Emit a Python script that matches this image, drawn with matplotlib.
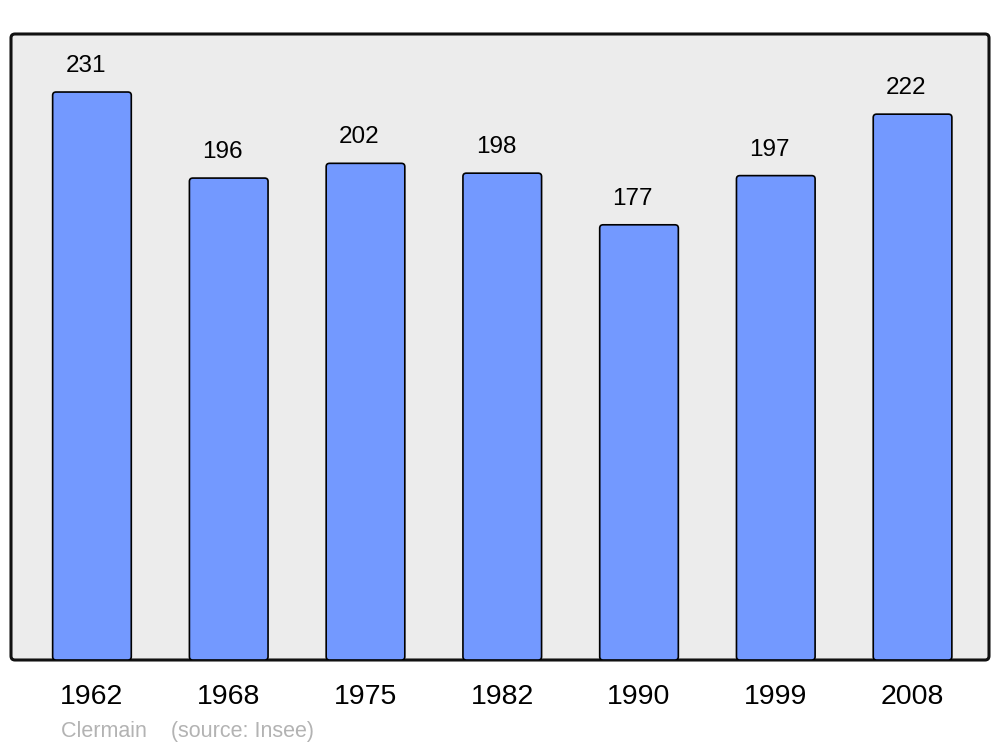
import matplotlib
matplotlib.use("Agg")
import matplotlib.pyplot as plt
from matplotlib.patches import FancyBboxPatch

plt.rcParams['font.family'] = ['Liberation Sans', 'DejaVu Sans']

# population data
years = ['1962', '1968', '1975', '1982', '1990', '1999', '2008']
population = [231, 196, 202, 198, 177, 197, 222]
commune = 'Clermain'
source = '(source: Insee)'

fig = plt.figure(figsize=(10, 7.47), dpi=100)
left, bottom, width, height = 11 / 1000, 1 - 660 / 747, 978 / 1000, 626 / 747

# rounded background frame, behind the axes
frame = FancyBboxPatch((left, bottom), width, height,
                       boxstyle="round,pad=0,rounding_size=0.004",
                       mutation_aspect=1000 / 747,
                       transform=fig.transFigure, facecolor='#ececec',
                       edgecolor='#111111', linewidth=2.2, zorder=-1)
fig.patches.append(frame)

ax = fig.add_axes([left, bottom, width, height])
ax.set_facecolor('none')
ax.set_xlim(-0.592, 6.559)
ax.set_ylim(0, 254.6)

pos = list(range(len(years)))
bars = ax.bar(pos, population, width=0.575, color='none', edgecolor='none')
# redraw bars with slightly rounded corners
for b in bars:
    ax.add_patch(FancyBboxPatch((b.get_x(), b.get_y()), b.get_width(), b.get_height(),
                                boxstyle="round,pad=0,rounding_size=0.025",
                                mutation_aspect=54,
                                facecolor='#7399ff', edgecolor='black',
                                linewidth=1.2, zorder=2))

for x, v in zip(pos, population):
    ax.annotate(str(v), (x, v), xytext=(-4.5, 18.8), textcoords='offset points',
                ha='center', va='center', fontsize=17.5)

ax.set_xticks(pos)
ax.set_xticklabels(years, fontsize=20.5)
ax.tick_params(axis='x', length=0, pad=17.5)
ax.set_yticks([])
for s in ax.spines.values():
    s.set_visible(False)

fig.text(61 / 1000, 1 - 732 / 747, commune + '    ' + source,
         fontsize=15.5, color='#b3b3b3', va='center', ha='left')

fig.savefig('out.png', dpi=100)
